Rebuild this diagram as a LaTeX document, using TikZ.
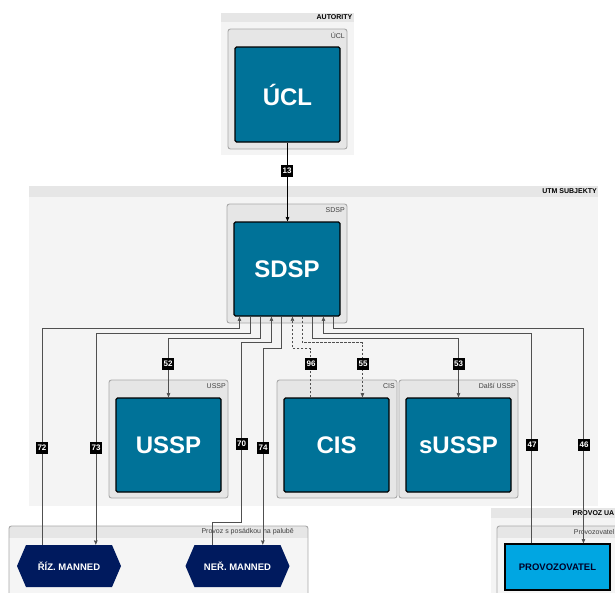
\documentclass[tikz,border=0pt]{standalone}
\usepackage{fontspec}
\setmainfont{Liberation Sans}
\usetikzlibrary{arrows.meta}
\definecolor{lanebg}{HTML}{F4F4F4}
\definecolor{lanehd}{HTML}{E6E6E6}
\definecolor{contbg}{HTML}{E6E6E6}
\definecolor{contbd}{HTML}{A8A8A8}
\definecolor{boxblue}{HTML}{007298}
\definecolor{navyhex}{HTML}{001A5E}
\definecolor{skyblue}{HTML}{00A6E2}
\definecolor{linegray}{HTML}{505050}
\begin{document}
\begin{tikzpicture}[x=1pt,y=-1pt,
  bigbox/.style={draw=black, line width=1.1pt, fill=boxblue, rounded corners=1.5pt,
    minimum width=105pt, minimum height=94pt, text=white,
    font=\bfseries\fontsize{24}{28}\selectfont, inner sep=0pt},
  conn/.style={draw=linegray, line width=0.6pt},
  arr/.style={-{Stealth[length=4.5pt,width=3.6pt,inset=0.6pt]}},
  dsh/.style={dash pattern=on 2.5pt off 1.5pt},
  lbl/.style={fill=black, text=white, font=\bfseries\fontsize{8}{9}\selectfont,
    minimum width=12pt, minimum height=12pt, inner sep=0pt},
  lanehead/.style={font=\bfseries\fontsize{7}{8}\selectfont, inner sep=0pt},
  conthead/.style={font=\fontsize{7}{8}\selectfont, text=black!75, inner sep=0pt},
  cont/.style={draw=contbd, fill=contbg, line width=0.9pt, rounded corners=2.5pt},
  hexlabel/.style={text=white, font=\bfseries\fontsize{9.5}{11}\selectfont,
    minimum width=104pt, minimum height=42pt, inner sep=0pt},
]
\useasboundingbox (0,0) rectangle (615,592);
\clip (0,0) rectangle (615,592);
\fill[white] (0,0) rectangle (615,592);

% lanes
\fill[lanebg] (221,13) rectangle (354,155);
\fill[lanehd] (221,13) rectangle (354,22);
\node[lanehead, anchor=east] (hautority) at (352.5,17.5) {AUTORITY};
\fill[lanebg] (29,186) rectangle (598,506);
\fill[lanehd] (29,186) rectangle (598,197);
\node[lanehead, anchor=east] (hutm) at (597,191.5) {UTM SUBJEKTY};
\fill[lanebg] (491,508) rectangle (620,600);
\fill[lanehd] (491,508) rectangle (620,518);
\node[lanehead, anchor=east] (hprovoz) at (614.5,513) {PROVOZ UA};

% containers
\draw[cont] (228,29) rectangle (347,149);
\node[conthead, anchor=east] (cucl) at (345,35) {ÚCL};
\draw[cont] (227,204) rectangle (347,323);
\node[conthead, anchor=east] (csdsp) at (345,210) {SDSP};
\draw[cont] (109,380) rectangle (228,498);
\node[conthead, anchor=east] (cussp) at (226,386) {USSP};
\draw[cont] (277,380) rectangle (397,498);
\node[conthead, anchor=east] (ccis) at (395,386) {CIS};
\draw[cont] (399,380) rectangle (518,498);
\node[conthead, anchor=east] (cdalsi) at (516,386) {Další USSP};

\begin{scope}
\clip[rounded corners=2.5pt] (9,526) rectangle (308,610);
\fill[white!96!black] (9,526) rectangle (308,610);
\fill[lanehd] (9,526) rectangle (308,538);
\end{scope}
\draw[contbd, line width=0.9pt, rounded corners=2.5pt] (9,526) rectangle (308,610);
\node[conthead, anchor=east] (cposadka) at (294,532) {Provoz s posádkou na palubě};

\begin{scope}
\clip[rounded corners=2.5pt] (497,526) rectangle (630,610);
\fill[white!96!black] (497,526) rectangle (630,610);
\fill[lanehd] (497,526) rectangle (630,538);
\end{scope}
\draw[contbd, line width=0.9pt, rounded corners=2.5pt] (497,526) rectangle (630,610);
\node[conthead, anchor=east] (cprov) at (614.5,532) {Provozovatel};

% main boxes
\node[bigbox, minimum height=95pt] (ucl) at (287.5,94.5) {ÚCL};
\node[bigbox, minimum width=106pt] (sdsp) at (287,269) {SDSP};
\node[bigbox] (ussp) at (168.5,445) {USSP};
\node[bigbox] (cis) at (336.5,445) {CIS};
\node[bigbox] (sussp) at (458.5,445) {sUSSP};

% hexagons
\coordinate (rizc) at (69,566);
\fill[navyhex] (rizc) ++(-52,0) -- ++(9,-21) -- ++(86,0) -- ++(9,21) -- ++(-9,21) -- ++(-86,0) -- cycle;
\node[hexlabel] (riz) at (rizc) {ŘÍZ. MANNED};
\coordinate (nerc) at (237.5,566);
\fill[navyhex] (nerc) ++(-52,0) -- ++(9,-21) -- ++(86,0) -- ++(9,21) -- ++(-9,21) -- ++(-86,0) -- cycle;
\node[hexlabel] (ner) at (nerc) {NEŘ. MANNED};

% operator
\node[draw=black, line width=1.1pt, fill=skyblue, minimum width=105pt, minimum height=46pt,
  inner sep=0pt, font=\bfseries\fontsize{9.5}{11}\selectfont, text=black!85!blue] (prov) at (557.5,567) {PROVOZOVATEL};

% connectors
\draw[conn, arr, draw=black] (ucl.south) -- (ucl.south |- sdsp.north);
\draw[conn, arr] ([xshift=25pt]riz.north west) |- ([shift={(6,12)}]sdsp.south west) -- ([xshift=6pt]sdsp.south west);
\draw[conn, arr] ([xshift=17pt]sdsp.south west) -- ([shift={(17,17)}]sdsp.south west) -| ([xshift=79pt]riz.north west);
\draw[conn, arr] ([xshift=27pt]sdsp.south west) -- ([shift={(27,22)}]sdsp.south west) -| (ussp.north);
\draw[conn, arr] ([xshift=26.5pt]ner.north west) -- ++(0,-23) -| ([shift={(7.5,26)}]sdsp.south west) -- ([shift={(38,26)}]sdsp.south west) -- ([xshift=38pt]sdsp.south west);
\draw[conn, arr] ([xshift=48pt]sdsp.south west) -- ([shift={(48,32)}]sdsp.south west) -| ([xshift=77.5pt]ner.north west);
\draw[conn, dsh, arr] ([xshift=27pt]cis.north west) |- ([shift={(59,32)}]sdsp.south west) -- ([xshift=59pt]sdsp.south west);
\draw[conn, dsh, arr] ([xshift=69pt]sdsp.south west) -- ([shift={(69,26)}]sdsp.south west) -| ([xshift=79pt]cis.north west);
\draw[conn, arr] ([xshift=79pt]sdsp.south west) -- ([shift={(79,22)}]sdsp.south west) -| (sussp.north);
\draw[conn, arr] ([xshift=27pt]prov.north west) |- ([shift={(90,17)}]sdsp.south west) -- ([xshift=90pt]sdsp.south west);
\draw[conn, arr] ([xshift=100pt]sdsp.south west) -- ([shift={(100,12)}]sdsp.south west) -| ([xshift=79pt]prov.north west);

% labels
\node[lbl] (l13) at (287,171) {13};
\node[lbl] (l72) at (42,448) {72};
\node[lbl] (l73) at (96,448) {73};
\node[lbl] (l52) at (168,364) {52};
\node[lbl] (l70) at (241.5,444) {70};
\node[lbl] (l74) at (263,448) {74};
\node[lbl] (l96) at (311,364) {96};
\node[lbl] (l55) at (363,364) {55};
\node[lbl] (l53) at (458.5,364) {53};
\node[lbl] (l47) at (532,445) {47};
\node[lbl] (l46) at (584,445) {46};
\end{tikzpicture}
\end{document}
